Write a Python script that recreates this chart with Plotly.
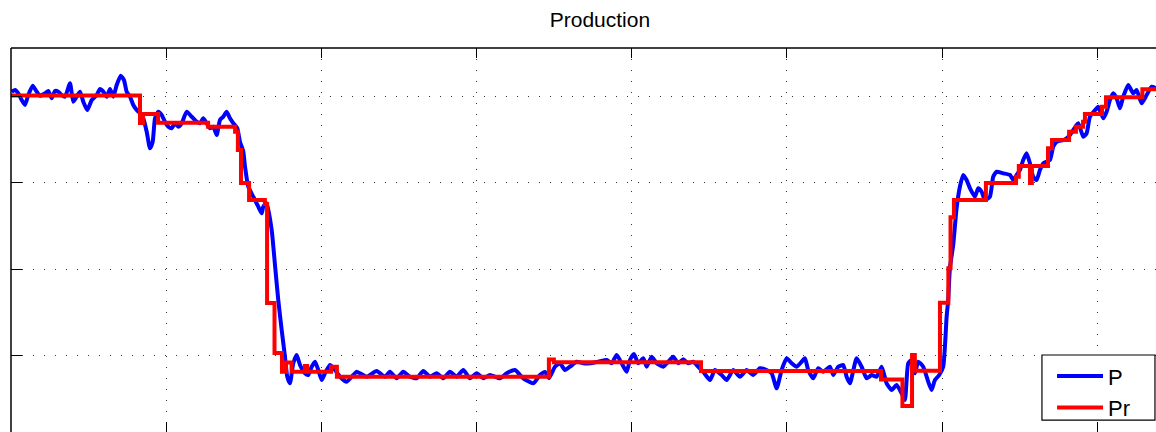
import plotly.graph_objects as go

# Time axis (arbitrary units, ticks every 50) and production values (ticks every 100)
p_time = [0.23, 1.29, 2.35, 3.45, 4.51, 5.57, 6.99, 8.28, 9.34, 10.95, 12.02, 13.11, 14.17, 15.24,
          16.33, 17.40, 19.01, 20.07, 21.17, 22.23, 23.29, 24.58, 26.0, 27.61, 28.67, 29.74, 30.83,
          31.9, 32.96, 34.05, 35.34, 36.4, 37.27, 38.34, 39.4, 40.5, 41.56, 42.62, 43.72, 44.78,
          45.65, 46.39, 47.45, 48.55, 49.61, 50.68, 51.77, 52.83, 53.9, 54.99, 56.6, 58.21, 59.82,
          60.89, 61.95, 63.05, 64.11, 65.17, 66.27, 67.33, 68.39, 69.49, 70.55, 71.62, 72.91, 73.77,
          74.84, 75.4, 76.45, 78.06, 79.67, 80.77, 81.28, 82.38, 83.99, 85.05, 86.11, 87.21, 88.27,
          89.01, 89.88, 90.94, 92.04, 93.11, 94.72, 95.78, 96.88, 97.94, 99.0, 100.1, 101.16, 102.77,
          104.38, 105.99, 108.15, 110.28, 111.37, 114.59, 117.81, 120.49, 122.1, 124.26, 126.38,
          128.54, 130.7, 132.83, 134.99, 137.14, 139.27, 141.43, 143.59, 145.71, 147.87, 150.03,
          152.16, 154.31, 157.54, 159.69, 162.37, 165.04, 168.26, 170.42, 172.03, 173.32, 175.25,
          176.86, 178.47, 180.08, 182.25, 184.37, 186.53, 189.2, 191.91, 193.52, 195.13, 196.74,
          198.35, 199.42, 200.71, 202.09, 203.7, 204.8, 206.41, 208.02, 210.14, 211.75, 213.36,
          214.97, 216.58, 218.2, 219.81, 221.42, 223.03, 225.19, 226.8, 228.96, 230.57, 232.7,
          234.85, 237.01, 239.14, 241.3, 243.46, 245.07, 246.68, 248.29, 249.9, 251.51, 253.12,
          254.73, 255.79, 256.85, 258.46, 260.08, 261.69, 263.84, 264.91, 266.52, 268.13, 269.22,
          270.29, 272.45, 274.06, 275.67, 277.28, 278.89, 280.5, 282.11, 283.72, 285.33, 286.94,
          288.0, 289.07, 290.16, 291.23, 292.29, 293.9, 295.51, 296.61, 297.67, 299.06, 300.34,
          301.44, 301.95, 302.5, 303.56, 304.66, 305.72, 306.78, 307.88, 308.94, 310.56, 311.62,
          312.72, 313.78, 315.39, 316.45, 317.55, 319.67, 321.84, 322.9, 324.0, 325.06, 326.12,
          327.22, 328.28, 329.34, 330.44, 331.5, 332.57, 334.73, 335.79, 336.89, 339.01, 340.11,
          341.17, 342.24, 343.85, 345.46, 346.55, 347.62, 349.77, 350.29, 351.9, 352.99, 354.06,
          355.12, 356.22, 357.28, 358.34, 359.96, 361.57, 362.66, 364.27, 365.88, 367.49, 368.9]
p_values = [405.6, 407.5, 403.7, 395.9, 390.2, 401.7, 412.5, 405.6, 400.9, 403.7, 406.4, 397.9, 406.4,
            405.6, 401.7, 399.8, 415.3, 394.0, 399.8, 405.6, 394.0, 384.4, 395.9, 401.7, 408.7, 405.6,
            399.8, 408.7, 399.8, 413.3, 424.1, 419.1, 405.6, 399.8, 390.2, 384.4, 380.5, 374.7, 359.2,
            340.0, 347.6, 374.7, 382.4, 378.6, 370.8, 365.0, 363.2, 369.0, 365.0, 369.0, 382.4, 376.6,
            370.8, 369.0, 374.7, 369.0, 363.2, 365.0, 355.4, 372.8, 376.6, 382.4, 374.7, 369.0, 363.2,
            347.6, 336.1, 318.7, 295.5, 283.9, 272.4, 264.7, 272.4, 276.3, 245.4, 204.8, 164.3, 129.5,
            98.6, 75.4, 67.8, 91.0, 100.6, 89.0, 79.4, 77.4, 87.0, 92.8, 83.2, 71.6, 79.4, 89.0, 83.2,
            75.4, 69.7, 77.4, 81.2, 75.4, 82.0, 75.4, 81.2, 73.6, 81.2, 75.4, 73.6, 82.0, 75.4, 79.4,
            73.6, 81.2, 75.4, 83.2, 73.6, 79.4, 73.6, 77.4, 73.6, 79.4, 83.2, 73.6, 67.8, 77.4, 80.9,
            73.9, 87.0, 91.0, 83.2, 87.0, 92.8, 91.0, 91.0, 92.8, 94.8, 91.0, 100.6, 91.0, 81.2, 94.8,
            101.7, 91.0, 96.8, 87.0, 98.6, 91.0, 87.0, 92.8, 98.6, 91.0, 95.6, 91.0, 92.8, 87.0, 81.2,
            71.6, 83.2, 77.4, 71.6, 83.2, 75.4, 83.2, 77.4, 85.2, 83.2, 79.4, 62.0, 83.2, 96.8, 91.0,
            87.0, 92.8, 96.8, 83.2, 73.6, 85.2, 81.2, 87.0, 77.4, 87.0, 89.0, 75.4, 67.8, 96.8, 87.0,
            73.6, 77.4, 75.4, 87.0, 67.8, 60.0, 65.8, 56.2, 48.5, 91.0, 94.8, 79.4, 92.8, 87.0, 69.7,
            60.0, 71.6, 77.4, 87.0, 144.9, 164.3, 201.4, 228.0, 270.8, 295.5, 309.1, 303.3, 294.0,
            283.9, 293.7, 289.7, 280.1, 283.9, 307.1, 312.9, 311.0, 309.1, 303.3, 309.1, 314.9, 326.4,
            334.2, 322.6, 307.1, 303.3, 314.9, 322.6, 326.4, 341.9, 347.6, 349.6, 351.6, 355.4, 361.2,
            369.0, 353.4, 357.4, 376.6, 386.3, 388.2, 374.7, 382.4, 395.9, 403.7, 397.9, 386.3, 399.8,
            413.3, 403.7, 407.5, 392.1, 401.7, 411.4, 409.5]

# Reference (set-point) steps: value holds from each time until the next one
pr_time = [0, 41.56, 42.5, 47.4, 63.5, 72.2, 73.1, 74.1, 76.7, 81.8, 82.5, 84.9, 87.3, 88.6, 90.4,
           94.7, 95.4, 103.1, 105.0, 173.3, 174.9, 222.3, 280.3, 287.2, 290.3, 291.2, 299.3, 302.0,
           302.7, 303.8, 314.1, 323.8, 324.7, 328.3, 328.9, 334.1, 335.4, 340.9, 343.1, 345.4, 346.0,
           351.5, 352.8, 364.5, 368.9]
pr_values = [401.2, 369.3, 379.7, 369.7, 365.0, 359.2, 338.0, 299.8, 280.1, 275.5, 160.8, 102.9, 81.2,
             91.9, 81.2, 87.8, 81.2, 87.0, 75.4, 95.4, 92.1, 82.0, 72.2, 41.5, 100.6, 82.4, 161.2,
             201.0, 260.1, 280.1, 299.8, 307.1, 319.5, 299.8, 319.5, 340.0, 349.6, 359.2, 365.0,
             370.8, 379.7, 388.2, 399.1, 408.3, 408.3]

x_range = [0, 368.9]
y_range = [11.4, 456.2]
x_ticks = [0, 50, 100, 150, 200, 250, 300, 350]
y_ticks = [100, 200, 300, 400]

fig = go.Figure()
fig.add_trace(go.Scatter(x=p_time, y=p_values, mode="lines", name="P",
                         line=dict(color="#0000ff", width=4, shape="spline", smoothing=0.5)))
fig.add_trace(go.Scatter(x=pr_time, y=pr_values, mode="lines", name="Pr",
                         line=dict(color="#ff0000", width=4, shape="hv")))

grid = dict(showgrid=True, gridcolor="#333333", gridwidth=1, griddash="1px,10px",
            zeroline=False, showticklabels=False, ticks="inside", tickcolor="black",
            showline=False, automargin=False)

fig.update_layout(
    width=1156, height=432,
    margin=dict(l=11, r=0, t=48, b=0, pad=0, autoexpand=False),
    paper_bgcolor="white", plot_bgcolor="white",
    font=dict(family="Liberation Sans, Arial, sans-serif", color="black"),
    title=dict(text="Production", x=0.519, xref="container", xanchor="center",
               y=0.954, yref="container", yanchor="middle",
               font=dict(size=21, color="black"), automargin=False),
    xaxis=dict(range=x_range, tickvals=x_ticks, ticklen=10, mirror="ticks", **grid),
    yaxis=dict(range=y_range, tickvals=y_ticks, ticklen=11, mirror=False, **grid),
    legend=dict(x=0.9092, y=0.2, xanchor="left", yanchor="top",
                bgcolor="rgba(0,0,0,0)", borderwidth=0,
                font=dict(size=22, color="black"), tracegroupgap=0,
                itemwidth=46),
    showlegend=True,
    shapes=[
        dict(type="line", xref="paper", yref="paper", x0=0, x1=1, y0=1, y1=1,
             line=dict(color="black", width=1.5)),
        dict(type="line", xref="paper", yref="paper", x0=0, x1=0, y0=0, y1=1,
             line=dict(color="black", width=1.5)),
        # legend frame
        dict(type="rect", xref="paper", yref="paper", x0=0.9004, x1=0.9991,
             y0=0.031, y1=0.2005, layer="above", fillcolor="white",
             line=dict(color="black", width=1.2)),
    ],
)

fig.write_html("out.html", config={"displayModeBar": False},
               post_script="document.body.style.margin='0';document.body.style.overflow='hidden';")
